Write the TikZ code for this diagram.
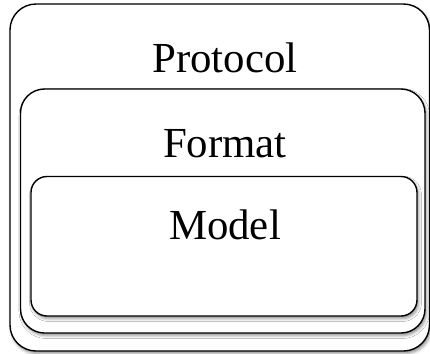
\documentclass[tikz,border=0pt]{standalone}
\usepackage{fontspec}
\setmainfont{Liberation Serif}
\usetikzlibrary{shadows.blur}
\tikzset{
  layerbox/.style={draw=black, line width=1.4bp, fill=white,
    blur shadow={shadow xshift=1.5bp, shadow yshift=-2.5bp,
      shadow blur radius=3bp, shadow opacity=45}},
  layerlabel/.style={anchor=base, inner sep=0pt,
    font=\fontsize{43}{50}\selectfont}
}
\begin{document}
\begin{tikzpicture}[x=1bp, y=-1bp]
  \useasboundingbox (0,0) rectangle (430,354);
  % nested layers, outermost first
  \draw[layerbox, rounded corners=26bp] (10,4) rectangle (429.5,351);
  \draw[layerbox, rounded corners=24bp] (20.5,89) rectangle (425,333);
  \draw[layerbox, rounded corners=16bp] (31,176.5) rectangle (417,316);
  % layer names
  \node[layerlabel] (protocol) at (225,72) {Protocol};
  \node[layerlabel] (format) at (225,157) {Format};
  \node[layerlabel] (model) at (225,239.5) {Model};
\end{tikzpicture}
\end{document}
